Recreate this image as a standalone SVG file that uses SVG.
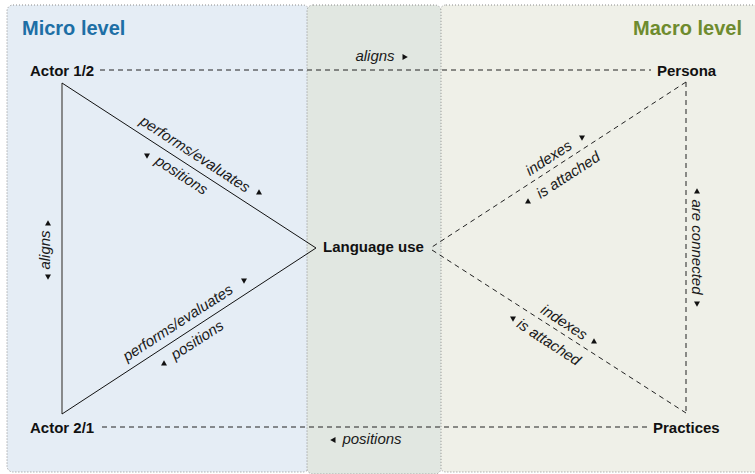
<svg xmlns="http://www.w3.org/2000/svg" xmlns:xlink="http://www.w3.org/1999/xlink" width="755" height="474" viewBox="0 0 755 474">
<style>
.panel{stroke:#8c8c8c;stroke-width:1;stroke-dasharray:1 2}
.head{font-family:"Liberation Sans",Arial,sans-serif;font-weight:bold;font-size:20px}
.node{font-family:"Liberation Sans",Arial,sans-serif;font-weight:bold;font-size:15px;fill:#111}
.lab{font-family:"Liberation Sans",Arial,sans-serif;font-style:italic;font-size:15px;fill:#1a1a1a}
.solid{stroke:#111;stroke-width:1;fill:none}
.dash{stroke:#222;stroke-width:1;fill:none;stroke-dasharray:5 4}
.tri{fill:#111}
</style>
<defs>
<path id="tu" d="M0,-2.8 L3,2.5 L-3,2.5 Z"/>
<path id="td" d="M0,2.8 L3,-2.5 L-3,-2.5 Z"/>
<path id="tr" d="M2.8,0 L-2.5,-3 L-2.5,3 Z"/>
<path id="tl" d="M-2.8,0 L2.5,-3 L2.5,3 Z"/>
</defs>
<g id="panels">
<rect class="panel" x="7" y="5" width="302" height="467" rx="6" fill="#e5edf5"/>
<rect class="panel" x="440" y="5" width="330" height="467" rx="6" fill="#eff0e8"/>
<rect class="panel" x="307" y="5" width="134" height="469" rx="6" fill="#e1e7e1"/>
<text class="head" x="22" y="35" fill="#1d6fa5">Micro level</text>
<text class="head" x="742" y="35" fill="#6e8b2e" text-anchor="end">Macro level</text>
</g>
<g id="connectors">
<line class="dash" x1="100" y1="70" x2="651" y2="70"/>
<line class="dash" x1="102" y1="427" x2="648" y2="427"/>
<line x1="62" y1="83" x2="62" y2="414" stroke="#707070" stroke-width="1.6"/>
<polyline class="solid" points="62,83 316,248 62,414"/>
<polyline class="dash" points="686,82 432,247"/>
<polyline class="dash" points="432,250 686,413"/>
<line class="dash" x1="686" y1="82" x2="686" y2="413"/>
</g>
<g id="connector-labels">
<text class="lab" x="375" y="61" text-anchor="middle">aligns</text>
<use xlink:href="#tr" x="405" y="57" class="tri"/>
<text class="lab" x="372" y="444" text-anchor="middle">positions</text>
<use xlink:href="#tl" x="333" y="440" class="tri"/>
<g transform="translate(50,250) rotate(-90)"><text class="lab" x="0" y="0" text-anchor="middle">aligns</text></g>
<use xlink:href="#tu" x="48" y="223" class="tri"/>
<use xlink:href="#td" x="48" y="277" class="tri"/>
<g transform="translate(188,165) rotate(33)">
<text class="lab" x="0" y="-8" text-anchor="middle">performs/evaluates</text>
<text class="lab" x="0" y="17" text-anchor="middle">positions</text>
</g>
<use xlink:href="#tu" x="259" y="192" class="tri"/>
<use xlink:href="#td" x="147" y="156" class="tri"/>
<g transform="translate(189,331) rotate(-33)">
<text class="lab" x="-5" y="-8" text-anchor="middle">performs/evaluates</text>
<text class="lab" x="2" y="17" text-anchor="middle">positions</text>
</g>
<use xlink:href="#td" x="244" y="281" class="tri"/>
<use xlink:href="#tu" x="164" y="363" class="tri"/>
<g transform="translate(558,165) rotate(-33)">
<text class="lab" x="-4" y="-6" text-anchor="middle">indexes</text>
<text class="lab" x="3" y="19" text-anchor="middle">is attached</text>
</g>
<use xlink:href="#td" x="582" y="138" class="tri"/>
<use xlink:href="#tu" x="528" y="201" class="tri"/>
<g transform="translate(559,332) rotate(33)">
<text class="lab" x="-1" y="-6" text-anchor="middle">indexes</text>
<text class="lab" x="-3" y="19" text-anchor="middle">is attached</text>
</g>
<use xlink:href="#tu" x="594" y="341" class="tri"/>
<use xlink:href="#td" x="513" y="319" class="tri"/>
<g transform="translate(692,247) rotate(90)"><text class="lab" x="0" y="0" text-anchor="middle">are connected</text></g>
<use xlink:href="#tu" x="697" y="191" class="tri"/>
<use xlink:href="#td" x="697" y="304" class="tri"/>
</g>
<g id="node-actor12"><text class="node" x="30" y="76">Actor 1/2</text></g>
<g id="node-persona"><text class="node" x="657" y="76">Persona</text></g>
<g id="node-language-use"><text class="node" x="323" y="252">Language use</text></g>
<g id="node-actor21"><text class="node" x="30" y="433">Actor 2/1</text></g>
<g id="node-practices"><text class="node" x="653" y="433">Practices</text></g>
</svg>
